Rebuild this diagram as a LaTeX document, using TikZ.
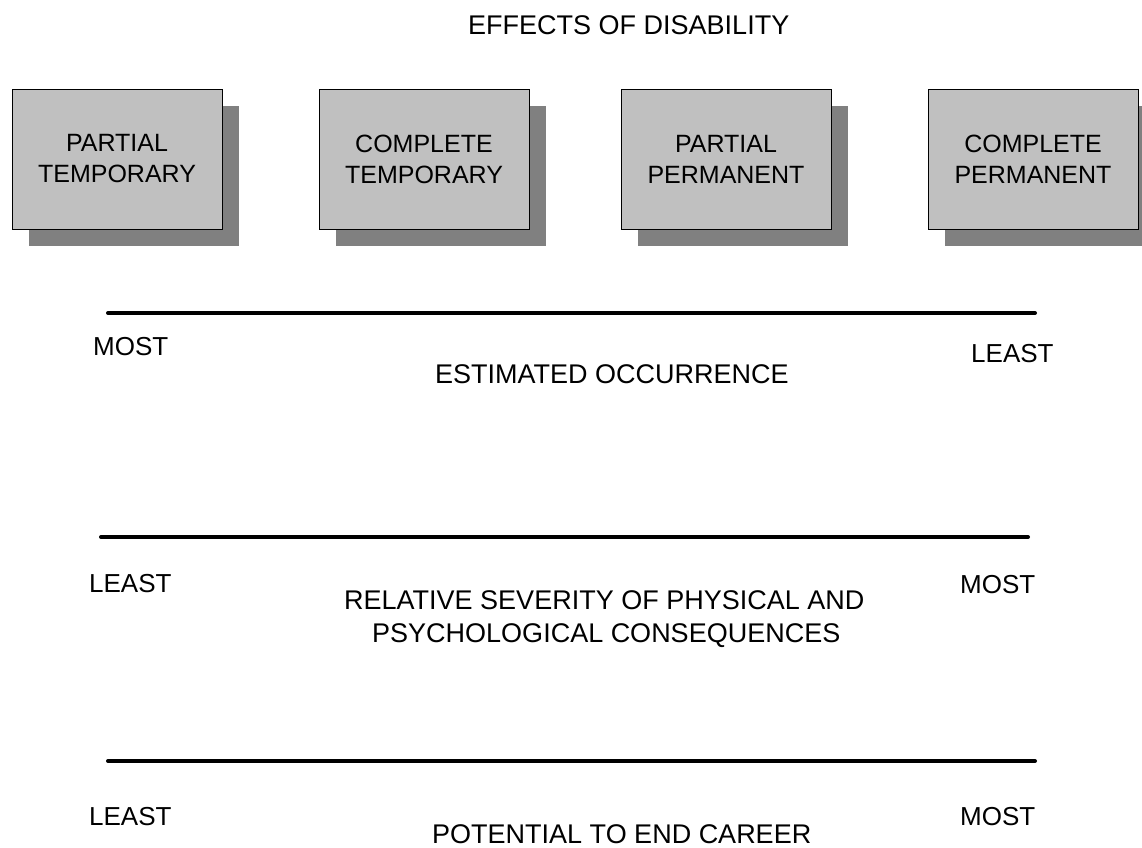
\documentclass[tikz,border=0pt]{standalone}
\usepackage{fontspec}
\setmainfont{Liberation Sans}
\usetikzlibrary{shadows}
\definecolor{boxgray}{RGB}{192,192,192}
\definecolor{shadowgray}{RGB}{128,128,128}
\begin{document}
\begin{tikzpicture}[x=1pt,y=-1pt,
  effectbox/.style={draw=black, line width=0.8pt, fill=boxgray,
    minimum width=210pt, minimum height=140pt, inner sep=0pt,
    align=center, font=\fontsize{25}{31}\selectfont,
    drop shadow={shadow xshift=17pt, shadow yshift=-17pt, fill=shadowgray, opacity=1}},
  scaleline/.style={line width=4pt, line cap=round},
  heading/.style={font=\fontsize{27}{33}\selectfont, inner sep=0pt, anchor=base west},
  endlabel/.style={font=\fontsize{26}{31}\selectfont, inner sep=0pt, anchor=base west}]
\useasboundingbox (0,0) rectangle (1142,847);

% title
\node[heading] (title) at (468,34) {EFFECTS OF DISABILITY};

% the four kinds of disability
\node[effectbox] (pt) at (117,159) {PARTIAL\\TEMPORARY};
\node[effectbox] (ct) at (424,159) {COMPLETE\\TEMPORARY};
\node[effectbox] (pp) at (726,159) {PARTIAL\\PERMANENT};
\node[effectbox] (cp) at (1033,159) {COMPLETE\\PERMANENT};

% scale 1: estimated occurrence
\coordinate (occL) at (108,313);
\coordinate (occR) at (1035,313);
\draw[scaleline] (occL) -- (occR);
\node[endlabel] (occMost) at (93,355) {MOST};
\node[endlabel] (occLeast) at (971,362) {LEAST};
\node[heading] (occTitle) at (435,383) {ESTIMATED OCCURRENCE};

% scale 2: relative severity
\coordinate (sevL) at (101,537);
\coordinate (sevR) at (1028,537);
\draw[scaleline] (sevL) -- (sevR);
\node[endlabel] (sevLeast) at (89,592) {LEAST};
\node[endlabel] (sevMost) at (960,593) {MOST};
\node[heading] (sevTitle1) at (344,609) {RELATIVE SEVERITY OF PHYSICAL AND};
\node[heading] (sevTitle2) at (372,642) {PSYCHOLOGICAL CONSEQUENCES};

% scale 3: potential to end career
\coordinate (carL) at (108,761);
\coordinate (carR) at (1035,761);
\draw[scaleline] (carL) -- (carR);
\node[endlabel] (carLeast) at (89,825) {LEAST};
\node[endlabel] (carMost) at (960,825) {MOST};
\node[heading] (carTitle) at (432,843) {POTENTIAL TO END CAREER};
\end{tikzpicture}
\end{document}
